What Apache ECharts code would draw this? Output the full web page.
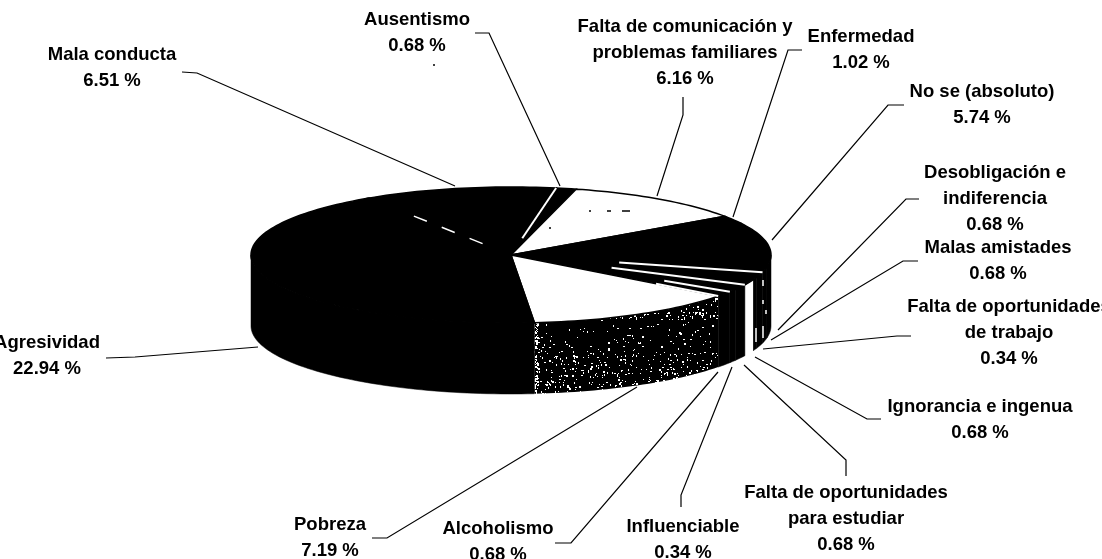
<!DOCTYPE html>
<html>
<head>
<meta charset="utf-8">
<title>Pie</title>
<script src="https://cdn.jsdelivr.net/npm/echarts@6/dist/echarts.min.js"></script>
<style>
  html, body { margin: 0; background: #fff; }
  #chart { width: 1102px; height: 559px; }
</style>
</head>
<body>
<div id="chart"></div>
<script>
// clockwise from the top of the pie
const categories = [
  'Ausentismo', 'Falta de comunicación y\nproblemas familiares', 'Enfermedad', 'No se (absoluto)',
  'Desobligación e\nindiferencia', 'Malas amistades', 'Falta de oportunidades\nde trabajo',
  'Ignorancia e ingenua', 'Falta de oportunidades\npara estudiar', 'Influenciable',
  'Alcoholismo', 'Pobreza', 'Agresividad', 'Mala conducta'
]
const percents = [0.68, 6.16, 1.02, 5.74, 0.68, 0.68, 0.34, 0.68, 0.68, 0.34, 0.68, 7.19, 22.94, 6.51]

// pie geometry
const cx = 511, cy = 255, rx = 260, ry = 68, depth = 71
const startAngle = 80

// label centre x, y of first line
const labelPos = [
  [417, 20], [685, 27], [861, 37], [982, 92], [995, 173], [998, 248], [1009, 307],
  [980, 407], [846, 493], [683, 527], [498, 529], [330, 525], [47, 343], [112, 55]
]
// leader lines, from the label to the pie
const leaders = [
  [[475, 33], [489, 33], [560, 186]],
  [[683, 97], [683, 115], [657, 196]],
  [[802, 50], [788, 50], [733, 217]],
  [[904, 105], [888, 105], [772, 240]],
  [[919, 199], [906, 199], [778, 330]],
  [[918, 261], [903, 261], [771, 340]],
  [[911, 336], [897, 336], [763, 349]],
  [[881, 419], [867, 419], [755, 357]],
  [[846, 476], [846, 460], [744, 365]],
  [[681, 507], [681, 495], [732, 367]],
  [[555, 543], [571, 543], [718, 372]],
  [[372, 538], [387, 538], [637, 387]],
  [[106, 358], [135, 357], [258, 347]],
  [[182, 72], [197, 73], [455, 186]]
]

const whiteTops = ['Falta de comunicación y\nproblemas familiares', 'Pobreza']
const whiteWalls = ['Ignorancia e ingenua']
const speckledWalls = ['Pobreza']
// thin white lines along the end of some slices: slice index, from, to (share of radius), dashed
const sliceLines = [
  [13, 0.25, 1, false], [4, 0.43, 1, false], [7, 0.43, 1, false],
  [9, 0.7, 1, false], [10, 0.7, 1, false], [12, 0.2, 0.72, true]
]

const total = percents.reduce((a, b) => a + b, 0)
const sliceAngles = []
let acc = startAngle
percents.forEach(v => {
  const next = acc - v / total * 360
  sliceAngles.push([acc, next])
  acc = next
})

function rim(deg, r = 1, dy = 0) {
  const t = deg * Math.PI / 180
  return [cx + rx * r * Math.cos(t), cy - ry * r * Math.sin(t) + dy]
}
function arc(from, to, dy = 0) {
  const pts = []
  const n = Math.max(2, Math.ceil(Math.abs(from - to) / 1.5))
  for (let i = 0; i <= n; i++) pts.push(rim(from + (to - from) * i / n, 1, dy))
  return pts
}

// scan noise of the dark wall: one fixed tile, 240x80 so that it lines up with the wall
const tile = document.createElement('canvas')
tile.width = 240
tile.height = 80
const tileCtx = tile.getContext('2d')
tileCtx.fillStyle = '#000'
tileCtx.fillRect(0, 0, 240, 80)
tileCtx.fillStyle = '#fff'
let seed = 12345
function nextNoise() {
  seed = (seed * 1103515245 + 12345) % 2147483648
  return seed / 2147483648
}
for (let y = 0; y < 80; y++) {
  for (let x = 0; x < 240; x++) {
    let p = 0.006 + 0.05 * (y / 80)
    if (x >= 53 && x < 58) p = 0.25
    if (nextNoise() < p) tileCtx.fillRect(x, y, nextNoise() < 0.3 ? 2 : 1, nextNoise() < 0.3 ? 2 : 1)
  }
}

function renderWall(params, api) {
  const i = api.value(0)
  const hi = Math.min(sliceAngles[i][0], 0)
  const lo = Math.max(sliceAngles[i][1], -180)
  if (lo >= hi) return null
  const name = categories[i]
  let fill = '#000'
  if (whiteWalls.includes(name)) fill = '#fff'
  if (speckledWalls.includes(name)) fill = { image: tile, repeat: 'repeat' }
  return {
    type: 'polygon',
    shape: { points: arc(hi, lo).concat(arc(lo, hi, depth)) },
    style: { fill: fill, stroke: fill === '#000' ? '#000' : null, lineWidth: 0.5 }
  }
}

function renderTop(params, api) {
  const i = api.value(0)
  const white = whiteTops.includes(categories[i])
  return {
    type: 'polygon',
    shape: { points: [[cx, cy]].concat(arc(sliceAngles[i][0], sliceAngles[i][1])) },
    style: { fill: white ? '#fff' : '#000', stroke: '#000', lineWidth: 1.5 }
  }
}

function renderSliceLine(params, api) {
  const l = sliceLines[api.value(0)]
  const deg = sliceAngles[l[0]][1]
  const a = rim(deg, l[1]), b = rim(deg, l[2])
  return {
    type: 'line',
    shape: { x1: a[0], y1: a[1], x2: b[0], y2: b[1] },
    style: { stroke: '#fff', lineWidth: l[3] ? 1.5 : 2, lineDash: l[3] ? [14, 16] : null }
  }
}

function renderLabel(params, api) {
  const i = api.value(0)
  return {
    type: 'group',
    children: [
      {
        type: 'polyline',
        shape: { points: leaders[i] },
        style: { fill: null, stroke: '#000', lineWidth: 1.2 }
      },
      {
        type: 'text',
        style: {
          x: labelPos[i][0],
          y: labelPos[i][1] - 13,
          text: categories[i] + '\n' + percents[i].toFixed(2) + ' %',
          align: 'center',
          verticalAlign: 'top',
          lineHeight: 26,
          fill: '#000',
          font: 'bold 18.5px "Liberation Sans", Arial, sans-serif'
        }
      }
    ]
  }
}

// stray scan marks
function speck(x1, y1, x2, y2, color) {
  return {
    type: 'line',
    shape: { x1: x1, y1: y1, x2: x2, y2: y2 },
    style: { stroke: color, lineWidth: 1.5 },
    z: 10,
    silent: true
  }
}
const scanMarks = [
  speck(433, 65, 435, 65, '#000'), speck(589, 211, 591, 211, '#000'), speck(607, 211, 611, 211, '#000'),
  speck(622, 211, 630, 211, '#000'), speck(549, 228, 551, 228, '#000'),
  speck(763, 280, 763, 286, '#fff'), speck(763, 300, 763, 304, '#fff'), speck(763, 326, 763, 338, '#fff'),
  speck(756, 328, 756, 342, '#fff'), speck(766, 310, 766, 314, '#fff')
]

const idx = percents.map((v, i) => [i, v])

const chart = echarts.init(document.getElementById('chart'), null, { renderer: 'canvas' })
chart.setOption({
  animation: false,
  backgroundColor: '#fff',
  graphic: scanMarks,
  series: [
    { type: 'custom', coordinateSystem: 'none', renderItem: renderWall, data: idx, silent: true, z: 1 },
    { type: 'custom', coordinateSystem: 'none', renderItem: renderTop, data: idx, silent: true, z: 2 },
    { type: 'custom', coordinateSystem: 'none', renderItem: renderSliceLine, data: sliceLines.map((l, i) => [i]), silent: true, z: 3 },
    { type: 'custom', coordinateSystem: 'none', renderItem: renderLabel, data: idx, silent: true, z: 4 }
  ]
})
</script>
</body>
</html>
